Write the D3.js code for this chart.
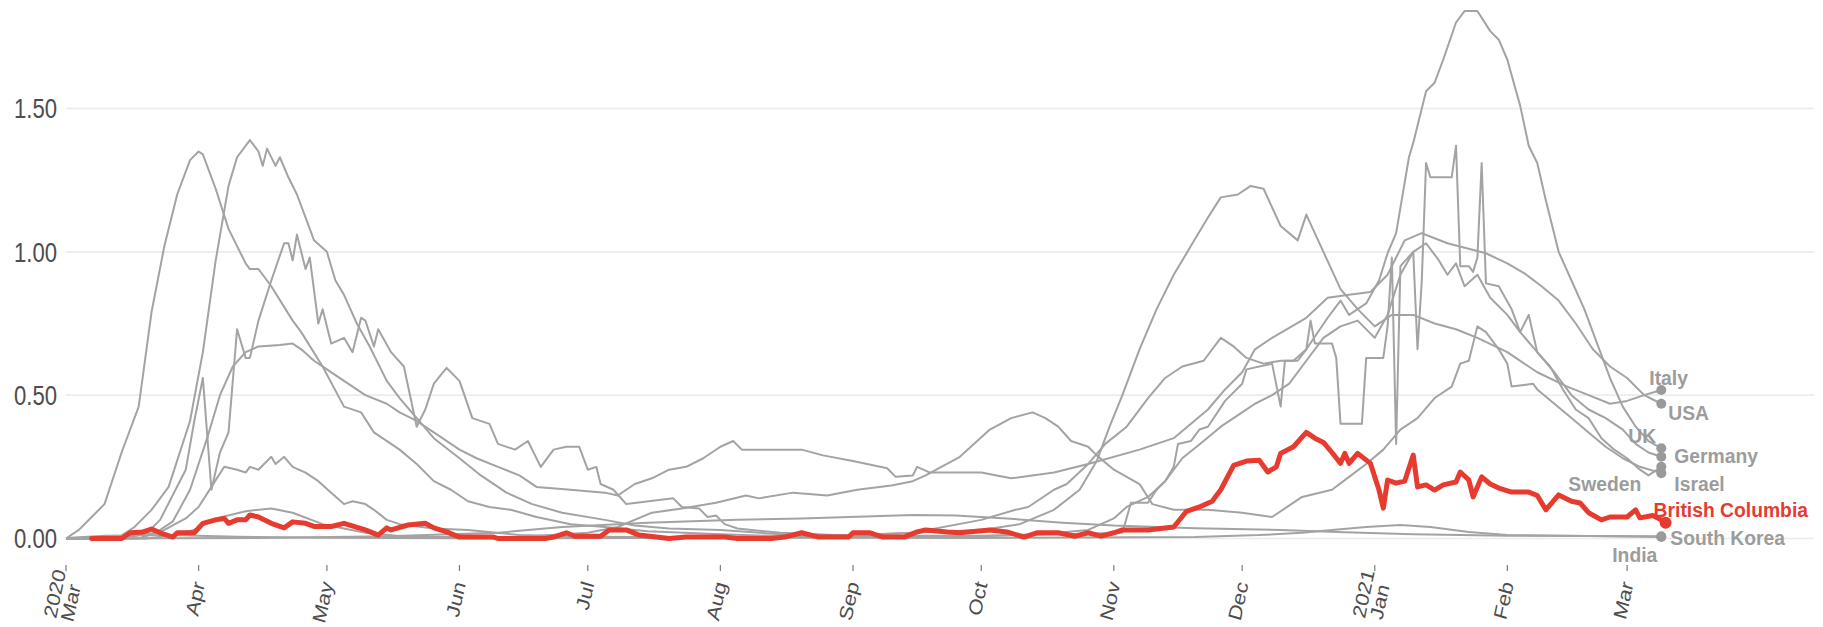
<!DOCTYPE html>
<html><head><meta charset="utf-8">
<script src="https://cdn.jsdelivr.net/npm/d3@7"></script>
<style>
html,body{margin:0;padding:0;background:#fff;}
svg{display:block;font-family:"Liberation Sans",Arial,Helvetica,sans-serif;}
</style>
</head><body>
<svg id="chart" width="1823" height="627"></svg>
<script>
// ---------------- DATA (daily deaths per 100k) ----------------
const yTicks = [0, 0.5, 1.0, 1.5];
const monthTickLabels = [["2020","Mar"],["Apr"],["May"],["Jun"],["Jul"],["Aug"],["Sep"],["Oct"],["Nov"],["Dec"],["2021","Jan"],["Feb"],["Mar"]];
const countries = ["Italy","USA","UK","Germany","Sweden","Israel","South Korea","India","British Columbia"];

const italy = [["2020-03-01",0],["2020-03-04",0.03],["2020-03-07",0.075],["2020-03-10",0.12],["2020-03-14",0.30],["2020-03-18",0.46],["2020-03-21",0.79],["2020-03-24",1.02],["2020-03-27",1.20],["2020-03-30",1.32],["2020-04-01",1.35],["2020-04-02",1.34],["2020-04-05",1.22],["2020-04-08",1.08],["2020-04-12",0.96],["2020-04-13",0.94],["2020-04-15",0.94],["2020-04-16",0.92],["2020-04-18",0.88],["2020-04-23",0.76],["2020-04-25",0.72],["2020-04-30",0.60],["2020-05-05",0.46],["2020-05-09",0.44],["2020-05-12",0.37],["2020-05-18",0.31],["2020-05-22",0.26],["2020-05-26",0.20],["2020-05-30",0.17],["2020-06-03",0.13],["2020-06-08",0.11],["2020-06-13",0.10],["2020-06-19",0.075],["2020-06-27",0.05],["2020-07-05",0.04],["2020-07-15",0.025],["2020-08-01",0.015],["2020-08-15",0.008],["2020-09-01",0.012],["2020-09-15",0.02],["2020-10-01",0.03],["2020-10-10",0.05],["2020-10-18",0.10],["2020-10-24",0.17],["2020-10-28",0.27],["2020-10-31",0.39],["2020-11-03",0.50],["2020-11-07",0.66],["2020-11-11",0.80],["2020-11-15",0.92],["2020-11-19",1.02],["2020-11-23",1.12],["2020-11-26",1.19],["2020-11-30",1.20],["2020-12-03",1.23],["2020-12-06",1.22],["2020-12-10",1.09],["2020-12-14",1.04],["2020-12-16",1.13],["2020-12-20",1.0],["2020-12-24",0.87],["2020-12-28",0.80],["2021-01-01",0.74],["2021-01-05",0.78],["2021-01-10",0.78],["2021-01-15",0.75],["2021-01-20",0.73],["2021-01-25",0.70],["2021-02-01",0.65],["2021-02-08",0.58],["2021-02-15",0.53],["2021-02-20",0.50],["2021-02-25",0.47],["2021-03-01",0.48],["2021-03-05",0.50],["2021-03-09",0.518]];

const usa = [["2020-03-01",0],["2020-03-12",0],["2020-03-22",0.02],["2020-03-26",0.06],["2020-03-30",0.17],["2020-04-03",0.35],["2020-04-06",0.50],["2020-04-09",0.60],["2020-04-12",0.65],["2020-04-15",0.67],["2020-04-20",0.675],["2020-04-23",0.68],["2020-04-25",0.66],["2020-04-28",0.62],["2020-05-01",0.59],["2020-05-05",0.55],["2020-05-10",0.50],["2020-05-15",0.47],["2020-05-18",0.44],["2020-05-22",0.41],["2020-05-26",0.37],["2020-06-01",0.31],["2020-06-05",0.28],["2020-06-10",0.25],["2020-06-15",0.22],["2020-06-19",0.18],["2020-06-27",0.17],["2020-07-05",0.16],["2020-07-08",0.15],["2020-07-12",0.19],["2020-07-16",0.21],["2020-07-20",0.24],["2020-07-24",0.25],["2020-07-28",0.28],["2020-08-01",0.32],["2020-08-04",0.34],["2020-08-06",0.31],["2020-08-20",0.31],["2020-08-25",0.29],["2020-09-01",0.27],["2020-09-09",0.245],["2020-09-11",0.215],["2020-09-15",0.22],["2020-09-16",0.25],["2020-09-19",0.23],["2020-10-01",0.23],["2020-10-08",0.21],["2020-10-18",0.23],["2020-10-26",0.26],["2020-11-07",0.31],["2020-11-15",0.35],["2020-11-23",0.45],["2020-11-27",0.52],["2020-12-01",0.58],["2020-12-04",0.66],["2020-12-08",0.70],["2020-12-16",0.77],["2020-12-21",0.84],["2020-12-26",0.85],["2020-12-31",0.86],["2021-01-04",0.92],["2021-01-08",1.04],["2021-01-12",1.065],["2021-01-18",1.03],["2021-01-27",0.995],["2021-02-01",0.96],["2021-02-05",0.925],["2021-02-09",0.88],["2021-02-13",0.83],["2021-02-17",0.75],["2021-02-21",0.66],["2021-02-25",0.60],["2021-03-01",0.56],["2021-03-05",0.50],["2021-03-09",0.47]];

const uk = [["2020-03-01",0],["2020-03-08",0],["2020-03-14",0.01],["2020-03-17",0.04],["2020-03-21",0.10],["2020-03-25",0.18],["2020-03-30",0.41],["2020-04-02",0.65],["2020-04-05",0.97],["2020-04-08",1.23],["2020-04-10",1.33],["2020-04-13",1.39],["2020-04-15",1.35],["2020-04-16",1.30],["2020-04-17",1.36],["2020-04-19",1.30],["2020-04-20",1.33],["2020-04-22",1.26],["2020-04-24",1.20],["2020-04-26",1.12],["2020-04-28",1.04],["2020-05-01",1.00],["2020-05-03",0.90],["2020-05-05",0.85],["2020-05-08",0.75],["2020-05-11",0.67],["2020-05-15",0.55],["2020-05-18",0.49],["2020-05-22",0.42],["2020-05-26",0.35],["2020-06-01",0.28],["2020-06-06",0.22],["2020-06-12",0.16],["2020-06-18",0.12],["2020-06-25",0.09],["2020-07-05",0.065],["2020-07-12",0.045],["2020-07-20",0.035],["2020-08-01",0.03],["2020-08-15",0.015],["2020-09-01",0.01],["2020-09-15",0.02],["2020-10-01",0.065],["2020-10-09",0.10],["2020-10-12",0.11],["2020-10-18",0.17],["2020-10-21",0.19],["2020-10-26",0.26],["2020-10-30",0.33],["2020-11-04",0.39],["2020-11-09",0.49],["2020-11-13",0.56],["2020-11-17",0.60],["2020-11-22",0.62],["2020-11-26",0.70],["2020-11-29",0.67],["2020-12-02",0.63],["2020-12-06",0.61],["2020-12-10",0.62],["2020-12-14",0.62],["2020-12-16",0.66],["2020-12-21",0.77],["2020-12-24",0.83],["2020-12-26",0.78],["2020-12-30",0.82],["2021-01-02",0.90],["2021-01-04",0.995],["2021-01-06",1.065],["2021-01-09",1.33],["2021-01-10",1.38],["2021-01-13",1.56],["2021-01-15",1.59],["2021-01-16",1.63],["2021-01-17",1.67],["2021-01-20",1.80],["2021-01-22",1.84],["2021-01-25",1.84],["2021-01-28",1.77],["2021-01-30",1.74],["2021-02-01",1.67],["2021-02-04",1.51],["2021-02-06",1.37],["2021-02-08",1.31],["2021-02-10",1.18],["2021-02-13",1.00],["2021-02-16",0.90],["2021-02-19",0.80],["2021-02-22",0.68],["2021-02-25",0.56],["2021-02-28",0.46],["2021-03-03",0.39],["2021-03-06",0.34],["2021-03-09",0.315]];

const germany = [["2020-03-01",0],["2020-03-18",0],["2020-03-24",0.03],["2020-03-29",0.07],["2020-04-01",0.11],["2020-04-04",0.18],["2020-04-07",0.25],["2020-04-10",0.24],["2020-04-12",0.23],["2020-04-13",0.25],["2020-04-15",0.24],["2020-04-18",0.285],["2020-04-19",0.26],["2020-04-21",0.285],["2020-04-23",0.25],["2020-04-26",0.23],["2020-04-29",0.20],["2020-05-02",0.16],["2020-05-05",0.12],["2020-05-07",0.13],["2020-05-10",0.12],["2020-05-12",0.10],["2020-05-15",0.065],["2020-05-18",0.05],["2020-05-26",0.035],["2020-06-03",0.03],["2020-06-15",0.012],["2020-07-01",0.006],["2020-08-01",0.004],["2020-09-01",0.004],["2020-10-01",0.008],["2020-10-15",0.015],["2020-10-26",0.03],["2020-11-01",0.07],["2020-11-04",0.11],["2020-11-09",0.145],["2020-11-13",0.20],["2020-11-17",0.28],["2020-11-22",0.34],["2020-11-26",0.39],["2020-12-01",0.44],["2020-12-04",0.47],["2020-12-08",0.50],["2020-12-12",0.54],["2020-12-16",0.62],["2020-12-20",0.70],["2020-12-24",0.74],["2020-12-28",0.76],["2021-01-01",0.70],["2021-01-04",0.78],["2021-01-07",0.92],["2021-01-10",1.0],["2021-01-13",1.03],["2021-01-16",0.97],["2021-01-18",0.92],["2021-01-20",0.96],["2021-01-22",0.88],["2021-01-25",0.92],["2021-01-28",0.84],["2021-02-01",0.78],["2021-02-04",0.72],["2021-02-08",0.65],["2021-02-12",0.58],["2021-02-16",0.50],["2021-02-20",0.45],["2021-02-24",0.42],["2021-02-28",0.38],["2021-03-03",0.33],["2021-03-06",0.30],["2021-03-09",0.285]];

const sweden = [["2020-03-01",0],["2020-03-15",0],["2020-03-20",0.02],["2020-03-23",0.065],["2020-03-29",0.24],["2020-03-31",0.41],["2020-04-02",0.56],["2020-04-04",0.17],["2020-04-06",0.30],["2020-04-08",0.37],["2020-04-10",0.73],["2020-04-12",0.63],["2020-04-13",0.63],["2020-04-15",0.76],["2020-04-18",0.90],["2020-04-21",1.03],["2020-04-22",1.03],["2020-04-23",0.97],["2020-04-24",1.06],["2020-04-26",0.94],["2020-04-27",0.98],["2020-04-29",0.75],["2020-04-30",0.80],["2020-05-02",0.68],["2020-05-05",0.70],["2020-05-07",0.65],["2020-05-09",0.77],["2020-05-10",0.76],["2020-05-12",0.67],["2020-05-13",0.73],["2020-05-16",0.65],["2020-05-19",0.60],["2020-05-22",0.39],["2020-05-24",0.45],["2020-05-26",0.54],["2020-05-29",0.595],["2020-06-01",0.55],["2020-06-04",0.42],["2020-06-08",0.40],["2020-06-10",0.33],["2020-06-14",0.31],["2020-06-17",0.34],["2020-06-20",0.25],["2020-06-23",0.31],["2020-06-26",0.32],["2020-06-29",0.32],["2020-07-01",0.24],["2020-07-03",0.25],["2020-07-04",0.19],["2020-07-07",0.17],["2020-07-10",0.12],["2020-07-21",0.14],["2020-07-23",0.11],["2020-07-27",0.105],["2020-07-29",0.075],["2020-07-31",0.08],["2020-08-02",0.05],["2020-08-05",0.035],["2020-08-15",0.02],["2020-09-01",0.01],["2020-10-01",0.01],["2020-10-20",0.015],["2020-11-03",0.02],["2020-11-05",0.125],["2020-11-09",0.125],["2020-11-11",0.17],["2020-11-13",0.20],["2020-11-15",0.25],["2020-11-16",0.33],["2020-11-19",0.34],["2020-11-21",0.38],["2020-11-23",0.39],["2020-11-27",0.48],["2020-12-01",0.54],["2020-12-02",0.59],["2020-12-08",0.61],["2020-12-10",0.46],["2020-12-11",0.62],["2020-12-13",0.62],["2020-12-16",0.66],["2020-12-17",0.76],["2020-12-18",0.68],["2020-12-22",0.68],["2020-12-23",0.63],["2020-12-24",0.40],["2020-12-29",0.40],["2020-12-30",0.63],["2021-01-03",0.63],["2021-01-04",0.74],["2021-01-05",0.98],["2021-01-06",0.33],["2021-01-07",0.95],["2021-01-10",1.0],["2021-01-11",0.66],["2021-01-12",0.90],["2021-01-13",1.31],["2021-01-14",1.26],["2021-01-19",1.26],["2021-01-20",1.37],["2021-01-21",0.95],["2021-01-23",0.95],["2021-01-24",0.93],["2021-01-25",0.98],["2021-01-26",1.31],["2021-01-27",0.89],["2021-01-30",0.88],["2021-02-02",0.80],["2021-02-04",0.72],["2021-02-06",0.78],["2021-02-08",0.65],["2021-02-11",0.60],["2021-02-14",0.52],["2021-02-17",0.45],["2021-02-20",0.42],["2021-02-23",0.35],["2021-02-26",0.31],["2021-03-01",0.28],["2021-03-04",0.24],["2021-03-06",0.22],["2021-03-09",0.25]];

const israel = [["2020-03-01",0],["2020-03-20",0],["2020-03-25",0.01],["2020-03-31",0.03],["2020-04-05",0.07],["2020-04-12",0.095],["2020-04-18",0.105],["2020-04-23",0.09],["2020-04-30",0.05],["2020-05-10",0.02],["2020-05-20",0.005],["2020-06-15",0.005],["2020-07-01",0.02],["2020-07-08",0.04],["2020-07-16",0.09],["2020-07-23",0.105],["2020-07-31",0.125],["2020-08-07",0.15],["2020-08-10",0.14],["2020-08-18",0.16],["2020-08-26",0.15],["2020-09-02",0.17],["2020-09-10",0.185],["2020-09-15",0.20],["2020-09-18",0.22],["2020-09-26",0.285],["2020-10-03",0.38],["2020-10-08",0.42],["2020-10-13",0.44],["2020-10-16",0.42],["2020-10-19",0.39],["2020-10-22",0.34],["2020-10-26",0.32],["2020-10-28",0.29],["2020-11-01",0.24],["2020-11-07",0.19],["2020-11-10",0.12],["2020-11-15",0.10],["2020-11-23",0.10],["2020-12-01",0.09],["2020-12-08",0.075],["2020-12-15",0.145],["2020-12-22",0.17],["2020-12-26",0.215],["2020-12-30",0.26],["2021-01-03",0.31],["2021-01-07",0.38],["2021-01-11",0.42],["2021-01-15",0.49],["2021-01-19",0.53],["2021-01-21",0.61],["2021-01-23",0.62],["2021-01-25",0.74],["2021-01-27",0.72],["2021-01-30",0.66],["2021-02-01",0.61],["2021-02-02",0.53],["2021-02-07",0.54],["2021-02-08",0.52],["2021-02-12",0.47],["2021-02-16",0.42],["2021-02-20",0.37],["2021-02-24",0.32],["2021-02-28",0.28],["2021-03-04",0.25],["2021-03-09",0.228]];

const southKorea = [["2020-03-01",0.002],["2020-03-10",0.01],["2020-03-25",0.012],["2020-04-10",0.006],["2020-05-01",0.003],["2020-06-01",0.001],["2020-09-01",0.003],["2020-10-01",0.002],["2020-11-20",0.005],["2020-12-05",0.012],["2020-12-15",0.02],["2020-12-22",0.03],["2020-12-30",0.04],["2021-01-07",0.047],["2021-01-14",0.04],["2021-01-23",0.023],["2021-02-01",0.012],["2021-02-15",0.01],["2021-03-09",0.005]];

const india = [["2020-03-01",0],["2020-04-15",0.002],["2020-05-15",0.008],["2020-06-10",0.02],["2020-06-25",0.04],["2020-07-15",0.055],["2020-08-05",0.065],["2020-08-20",0.07],["2020-09-15",0.082],["2020-09-25",0.08],["2020-10-07",0.07],["2020-10-20",0.055],["2020-11-01",0.045],["2020-11-20",0.036],["2020-12-10",0.03],["2020-12-25",0.022],["2021-01-10",0.015],["2021-02-01",0.01],["2021-03-09",0.008]];

const britishColumbia = [["2020-03-07",0],["2020-03-14",0],["2020-03-16",0.02],["2020-03-19",0.023],["2020-03-21",0.033],["2020-03-23",0.02],["2020-03-26",0.005],["2020-03-27",0.02],["2020-03-31",0.02],["2020-04-02",0.053],["2020-04-05",0.065],["2020-04-07",0.07],["2020-04-08",0.053],["2020-04-10",0.065],["2020-04-12",0.065],["2020-04-13",0.082],["2020-04-15",0.075],["2020-04-18",0.053],["2020-04-21",0.037],["2020-04-23",0.058],["2020-04-26",0.053],["2020-04-28",0.042],["2020-05-02",0.042],["2020-05-05",0.053],["2020-05-10",0.03],["2020-05-13",0.012],["2020-05-15",0.037],["2020-05-16",0.03],["2020-05-20",0.047],["2020-05-24",0.053],["2020-05-26",0.037],["2020-05-29",0.023],["2020-06-01",0.005],["2020-06-09",0.005],["2020-06-10",0],["2020-06-21",0],["2020-06-23",0.005],["2020-06-26",0.02],["2020-06-28",0.008],["2020-07-04",0.008],["2020-07-06",0.03],["2020-07-10",0.03],["2020-07-13",0.012],["2020-07-17",0.005],["2020-07-20",0],["2020-07-24",0.005],["2020-08-02",0.005],["2020-08-05",0],["2020-08-13",0],["2020-08-16",0.005],["2020-08-20",0.02],["2020-08-24",0.005],["2020-08-31",0.005],["2020-09-01",0.02],["2020-09-05",0.02],["2020-09-08",0.005],["2020-09-13",0.005],["2020-09-16",0.023],["2020-09-18",0.03],["2020-09-23",0.023],["2020-09-26",0.02],["2020-10-03",0.03],["2020-10-07",0.023],["2020-10-11",0.005],["2020-10-14",0.02],["2020-10-19",0.02],["2020-10-23",0.008],["2020-10-26",0.02],["2020-10-29",0.008],["2020-11-01",0.02],["2020-11-03",0.03],["2020-11-09",0.03],["2020-11-12",0.035],["2020-11-15",0.04],["2020-11-18",0.095],["2020-11-21",0.11],["2020-11-24",0.13],["2020-11-26",0.17],["2020-11-29",0.255],["2020-12-02",0.27],["2020-12-05",0.273],["2020-12-07",0.232],["2020-12-09",0.25],["2020-12-10",0.297],["2020-12-13",0.32],["2020-12-16",0.37],["2020-12-18",0.35],["2020-12-20",0.335],["2020-12-22",0.30],["2020-12-24",0.262],["2020-12-25",0.297],["2020-12-26",0.262],["2020-12-28",0.297],["2020-12-31",0.262],["2021-01-02",0.169],["2021-01-03",0.106],["2021-01-04",0.204],["2021-01-06",0.193],["2021-01-08",0.20],["2021-01-10",0.291],["2021-01-11",0.18],["2021-01-13",0.187],["2021-01-15",0.169],["2021-01-17",0.187],["2021-01-20",0.197],["2021-01-21",0.232],["2021-01-23",0.204],["2021-01-24",0.145],["2021-01-26",0.215],["2021-01-28",0.19],["2021-01-30",0.176],["2021-02-02",0.162],["2021-02-06",0.162],["2021-02-08",0.15],["2021-02-10",0.10],["2021-02-13",0.152],["2021-02-16",0.13],["2021-02-18",0.124],["2021-02-20",0.09],["2021-02-23",0.065],["2021-02-25",0.075],["2021-03-01",0.075],["2021-03-03",0.10],["2021-03-04",0.072],["2021-03-07",0.08],["2021-03-09",0.065],["2021-03-10",0.055]];

const seriesValues = [italy, usa, uk, germany, sweden, israel, southKorea, india, britishColumbia];

// label placement relative to each series' last point: [dx, dy, anchor]
const labelPlacement = {
  "Italy":[-12,-5,"start"], "USA":[7,16,"start"], "UK":[-33,-5,"start"],
  "Germany":[13,6,"start"], "Sweden":[-20,24,"end"], "Israel":[13,18,"start"],
  "British Columbia":[-12,-6,"start"], "South Korea":[9,8,"start"], "India":[-4,26,"end"]
};

// ---------------- CHART ----------------
const GRAY = "#a3a3a3", RED = "#e63b2e", LABEL_GRAY = "#9c9c9c", AXIS_TEXT = "#4d4d4d";
const svg = d3.select("#chart");
svg.append("rect").attr("width",1823).attr("height",627).attr("fill","#fff");

const parse = d3.utcParse("%Y-%m-%d");
const x = d3.scaleUtc().domain([parse("2020-03-01"), parse("2021-03-09")]).range([66, 1661.3]);
const y = d3.scaleLinear().domain([0, 1.5]).range([538.5, 108.5]);
const gridRight = 1814;

// gridlines
svg.append("g").selectAll("line").data(yTicks).join("line")
  .attr("x1", x.range()[0]).attr("x2", gridRight)
  .attr("y1", d => y(d)).attr("y2", d => y(d))
  .attr("stroke", "#ececec").attr("stroke-width", 1.6);

// y labels
svg.append("g").selectAll("text").data(yTicks).join("text")
  .attr("transform", d => `translate(57,${y(d)}) scale(0.82,1)`)
  .attr("text-anchor","end").attr("dy","0.36em")
  .attr("font-size", 27).attr("fill", AXIS_TEXT)
  .text(d => d3.format(".2f")(d));

// x ticks
const months = d3.utcMonth.range(parse("2020-03-01"), parse("2021-03-02"));
const xg = svg.append("g");
xg.selectAll("line").data(months).join("line")
  .attr("x1", d => x(d)).attr("x2", d => x(d))
  .attr("y1", 565).attr("y2", 571)
  .attr("stroke", "#7a7a7a").attr("stroke-width", 1.2);
const tl = xg.selectAll("text").data(months).join("text")
  .attr("transform", d => `translate(${x(d)},582) scale(0.85,1) rotate(-76)`)
  .attr("text-anchor","end").attr("font-size", 22).attr("fill", AXIS_TEXT);
tl.each(function(d, i) {
  const lines = monthTickLabels[i];
  const n = lines.length;
  d3.select(this).selectAll("tspan").data(lines).join("tspan")
    .attr("x", (l, j) => (n > 1 && j === 0) ? 10 : 0)
    .attr("dy", (l, j) => j === 0 ? (0.35 - 0.46 * (n - 1)) + "em" : "0.92em")
    .text(l => l);
});

// lines
const line = d3.line().x(d => x(parse(d[0]))).y(d => y(d[1])).curve(d3.curveLinear);
const seriesData = countries.map((name, i) => ({name, values: seriesValues[i], highlight: name === "British Columbia"}));

svg.append("g").selectAll("path").data(seriesData.filter(s => !s.highlight)).join("path")
  .attr("d", s => line(s.values)).attr("fill","none")
  .attr("stroke", GRAY).attr("stroke-width", 2).attr("stroke-linejoin","round");

svg.append("g").selectAll("path").data(seriesData.filter(s => s.highlight)).join("path")
  .attr("d", s => line(s.values)).attr("fill","none")
  .attr("stroke", RED).attr("stroke-width", 5).attr("stroke-linejoin","round").attr("stroke-linecap","round");

// end dots
const last = s => s.values[s.values.length - 1];
svg.append("g").selectAll("circle").data(seriesData.slice().sort((a,b)=>a.highlight-b.highlight)).join("circle")
  .attr("cx", s => x(parse(last(s)[0]))).attr("cy", s => y(last(s)[1]))
  .attr("r", s => s.highlight ? 6 : 5)
  .attr("fill", s => s.highlight ? RED : "#9a9a9a");

// end labels
svg.append("g").selectAll("text").data(seriesData).join("text")
  .attr("transform", s => {
    const p = labelPlacement[s.name];
    return `translate(${x(parse(last(s)[0])) + p[0]},${y(last(s)[1]) + p[1]}) scale(0.92,1)`;
  })
  .attr("text-anchor", s => labelPlacement[s.name][2])
  .attr("font-size", 21).attr("font-weight", "bold")
  .attr("fill", s => s.highlight ? RED : LABEL_GRAY)
  .text(s => s.name);
</script>
</body></html>
